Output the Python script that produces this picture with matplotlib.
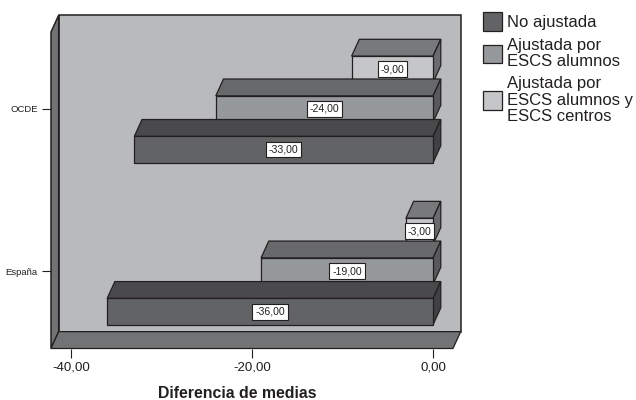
import matplotlib
matplotlib.use("Agg")
import matplotlib.pyplot as plt
from matplotlib.patches import Patch

plt.rcParams['font.family'] = ['Liberation Sans', 'DejaVu Sans']

groups = ["España", "OCDE"]
series = ["No ajustada", "Ajustada por\nESCS alumnos", "Ajustada por\nESCS alumnos y\nESCS centros"]
no_ajustada = [-36, -33]
ajustada_alumnos = [-19, -24]
ajustada_centros = [-3, -9]
xticks = [-40, -20, 0]
xticklabels = ["-40,00", "-20,00", "0,00"]

values = [no_ajustada, ajustada_alumnos, ajustada_centros]
offsets = [-0.25, 0.0, 0.245]
bar_h = 0.162
face = ["#626365", "#96999b", "#c4c6c8"]
top = ["#4a4a4c", "#68696b", "#77797b"]
side = ["#414143", "#58595b", "#6a6b6d"]
edge = "#231f20"

# depth of the 3D look, in data units
dx = 0.85
dy = 0.104

fig = plt.figure(figsize=(6.36, 4.0), dpi=100)
ax = fig.add_axes([51 / 636, 51.5 / 400, 402 / 636, 316.5 / 400])
x0, x1 = -42.2, 2.2
y0, y1 = -0.478, 1.475
ax.set_xlim(x0, x1)
ax.set_ylim(y0, y1)
for s in ax.spines.values():
    s.set_visible(False)
ax.patch.set_visible(False)


def poly(xs, ys, color, z, lw=0.9):
    ax.fill(xs, ys, facecolor=color, edgecolor=edge, linewidth=lw, zorder=z,
            clip_on=False, joinstyle="miter")


# walls
poly([x0 + dx, x1 + dx, x1 + dx, x0 + dx], [y0 + dy, y0 + dy, y1 + dy, y1 + dy], "#b9babc", 1, 1.1)
poly([x0, x0 + dx, x0 + dx, x0], [y0, y0 + dy, y1 + dy, y1], "#717375", 1.1, 1.1)
poly([x0, x1, x1 + dx, x0 + dx], [y0, y0, y0 + dy, y0 + dy], "#717375", 1.1, 0.9)

# bars, back ones first so the front ones overlap them
z = 2
for g in range(len(groups) - 1, -1, -1):
    for i in range(len(series) - 1, -1, -1):
        v = values[i][g]
        lo = g + offsets[i] - bar_h / 2
        hi = lo + bar_h
        poly([v, 0, dx, v + dx], [hi, hi, hi + dy, hi + dy], top[i], z)
        poly([0, dx, dx, 0], [lo, lo + dy, hi + dy, hi], side[i], z)
        ax.barh(g + offsets[i], v, height=bar_h, color=face[i], edgecolor=edge,
                linewidth=0.9, zorder=z + 0.1)
        ax.text(v / 2, g + offsets[i], f"{v},00", ha="center", va="center", fontsize=7.6,
                color="#231f20", zorder=z + 0.2,
                bbox=dict(boxstyle="square,pad=0.28", facecolor="white", edgecolor=edge, linewidth=0.8))
        z += 1

ax.set_yticks(range(len(groups)))
ax.set_yticklabels(groups, fontsize=6.8, color="#231f20")
ax.set_xticks(xticks)
ax.set_xticklabels(xticklabels, fontsize=9.6, color="#231f20")
ax.tick_params(axis="x", length=6.5, width=0.8, color=edge, pad=3)
ax.tick_params(axis="y", length=6.5, width=0.8, color=edge, pad=3.2)
ax.set_xlabel("Diferencia de medias", fontsize=11.4, fontweight="bold", color="#231f20",
              labelpad=9, x=0.463)

handles = [Patch(facecolor=face[i], edgecolor=edge, linewidth=0.9) for i in range(3)]
leg = fig.legend(handles, series, loc="upper left", bbox_to_anchor=(483 / 636, 1 - 12 / 400),
                 frameon=False, fontsize=12, handlelength=1.14, handleheight=1.35,
                 handletextpad=0.3, labelspacing=0.42, borderpad=0, borderaxespad=0)
for t in leg.get_texts():
    t.set_linespacing(1.12)
    t.set_color("#231f20")

fig.savefig("out.png", dpi=100)
